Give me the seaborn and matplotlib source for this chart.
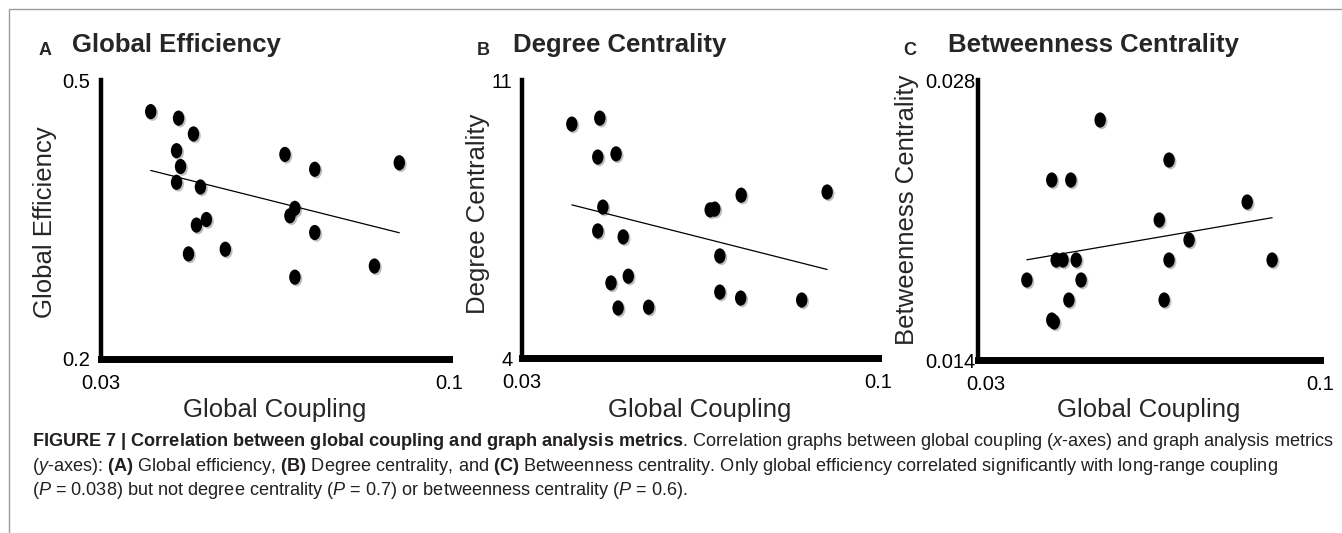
import matplotlib
matplotlib.use("Agg")
import matplotlib.pyplot as plt
import seaborn as sns
from matplotlib.path import Path
from matplotlib.transforms import Affine2D, ScaledTranslation
from matplotlib.patches import Rectangle
from matplotlib import patheffects as pe

# values
coupling_a = [0.0400, 0.0456, 0.0486, 0.0452, 0.0460, 0.0452, 0.0500, 0.0492, 0.0512, 0.0670,
              0.0730, 0.0900, 0.0690, 0.0680, 0.0730, 0.0476, 0.0550, 0.0690, 0.0850]
efficiency_a = [0.466, 0.459, 0.442, 0.424, 0.407, 0.390, 0.385, 0.344, 0.350, 0.420,
                0.404, 0.411, 0.362, 0.354, 0.336, 0.313, 0.318, 0.288, 0.300]

coupling_b = [0.0398, 0.0453, 0.0449, 0.0485, 0.0459, 0.0449, 0.0499, 0.0670, 0.0679, 0.0731,
              0.0900, 0.0689, 0.0475, 0.0509, 0.0689, 0.0730, 0.0850, 0.0489, 0.0549]
degree_b = [9.89, 10.04, 9.06, 9.14, 7.80, 7.20, 7.05, 7.73, 7.75, 8.10,
            8.18, 6.57, 5.89, 6.06, 5.66, 5.51, 5.46, 5.26, 5.28]

coupling_c = [0.0550, 0.0451, 0.0490, 0.0691, 0.0851, 0.0671, 0.0732, 0.0460, 0.0474,
              0.0501, 0.0691, 0.0902, 0.0400, 0.0511, 0.0486, 0.0681, 0.0451, 0.0456]
betweenness_c = [0.0260, 0.0230, 0.0230, 0.0240, 0.0219, 0.0210, 0.0200, 0.0190, 0.0190,
                 0.0190, 0.0190, 0.0190, 0.0180, 0.0180, 0.0170, 0.0170, 0.0160, 0.0159]

x_lim = [0.03, 0.1]
x_ticklabels = ["0.03", "0.1"]
y_lims = [[0.2, 0.5], [4, 11], [0.014, 0.028]]
y_ticklabels = [["0.2", "0.5"], ["4", "11"], ["0.014", "0.028"]]
panel_letters = ["A", "B", "C"]
panel_titles = ["Global Efficiency", "Degree Centrality", "Betweenness Centrality"]
y_labels = ["Global Efficiency", "Degree Centrality", "Betweenness Centrality"]
x_label = "Global Coupling"

sns.set_style("white")
plt.rcParams["font.family"] = ["Liberation Sans", "DejaVu Sans"]
plt.rcParams["mathtext.fontset"] = "custom"
plt.rcParams["mathtext.rm"] = "Liberation Sans"
plt.rcParams["mathtext.it"] = "Liberation Sans:italic"
plt.rcParams["mathtext.bf"] = "Liberation Sans:bold"

W, H = 1342, 533
fig = plt.figure(figsize=(W / 100, H / 100), dpi=100)


def px_box(left, top, right, bottom):
    return [left / W, (H - bottom) / H, (right - left) / W, (bottom - top) / H]


# axes boxes in pixels: left, top, right, bottom
boxes = [(101, 80, 449, 359), (522, 80, 878, 358), (978, 80, 1320, 360)]
ylabel_pos = [(45, 222), (478, 214), (907, 210)]
ytick_pad = [8, 7, 1.5]
title_pos = [(39, 72), (477, 513), (903, 948)]

# slightly tall oval dots like the original
dot = Path.unit_circle().transformed(Affine2D().scale(0.75, 1.0))

data = [(coupling_a, efficiency_a), (coupling_b, degree_b), (coupling_c, betweenness_c)]

for i, (xs, ys) in enumerate(data):
    left, top, right, bottom = boxes[i]
    ax = fig.add_axes(px_box(left, top, right, bottom))
    sns.regplot(x=xs, y=ys, ax=ax, ci=None, truncate=True, color="black", marker=dot,
                scatter_kws=dict(s=120, alpha=1, linewidths=0, edgecolor="black"),
                line_kws=dict(color="black", lw=0.9))
    ax.collections[0].set_path_effects([
        pe.SimplePatchShadow(offset=(1.2, -1.2), shadow_rgbFace="0.45", alpha=0.45),
        pe.Normal()])

    ax.set_xlim(x_lim)
    ax.set_ylim(y_lims[i])
    ax.set_xticks(x_lim)
    ax.set_xticklabels(x_ticklabels)
    ax.set_yticks(y_lims[i])
    ax.set_yticklabels(y_ticklabels[i])
    ax.tick_params(axis="both", length=0, labelsize=14.5, colors="black")
    ax.tick_params(axis="x", pad=11)
    ax.tick_params(axis="y", pad=ytick_pad[i])

    for side in ["top", "right"]:
        ax.spines[side].set_visible(False)
    ax.spines["left"].set_linewidth(3.2)
    ax.spines["bottom"].set_linewidth(5)
    for side in ["left", "bottom"]:
        ax.spines[side].set_color("black")
        ax.spines[side].set_capstyle("projecting")

    ax.set_xlabel(x_label, fontsize=18.5, va="center")
    ax.xaxis.set_label_coords(0.5, -(410 - bottom) / (bottom - top))
    ax.set_ylabel(y_labels[i], fontsize=18.5, va="center")
    lx, ly = ylabel_pos[i]
    ax.yaxis.set_label_coords((lx - left) / (right - left), (bottom - ly) / (bottom - top))

    if i == 2:
        lab = ax.get_xticklabels()[0]
        lab.set_transform(lab.get_transform() + ScaledTranslation(0.08, 0, fig.dpi_scale_trans))

    lx0, tx0 = title_pos[i]
    fig.text(lx0 / W, 1 - 55 / H, panel_letters[i], fontsize=13, fontweight="bold", va="baseline")
    fig.text(tx0 / W, 1 - 52 / H, panel_titles[i], fontsize=18.5, fontweight="bold", va="baseline")

# thin frame around the figure
fig.add_artist(Rectangle((9 / W, -0.1), 1.2, 1.1 - 9 / H, transform=fig.transFigure,
                         fill=False, edgecolor="#9a9a9a", lw=1))


def bold(s):
    return r"$\mathbf{" + s.replace(" ", r"\ ") + "}$"


caption = [
    bold("FIGURE 7 | Correlation between global coupling and graph analysis metrics")
    + ". Correlation graphs between global coupling ($\\mathit{x}$-axes) and graph analysis metrics",
    "($\\mathit{y}$-axes): " + bold("(A)") + " Global efficiency, " + bold("(B)")
    + " Degree centrality, and " + bold("(C)")
    + " Betweenness centrality. Only global efficiency correlated significantly with long-range coupling",
    "($\\mathit{P}$ = 0.038) but not degree centrality ($\\mathit{P}$ = 0.7) or betweenness centrality ($\\mathit{P}$ = 0.6).",
]
cap_base = [446, 471, 495]
cap_texts = [fig.text(32 / W, 1 - y / H, s, fontsize=11.5, va="baseline", ha="left", color="#231f20")
             for s, y in zip(caption, cap_base)]
fig.canvas.draw()
w0 = cap_texts[0].get_window_extent().width
for t in cap_texts:
    t.set_fontsize(11.5 * (1337 - 32) / w0)

fig.savefig("out.png", dpi=100)
